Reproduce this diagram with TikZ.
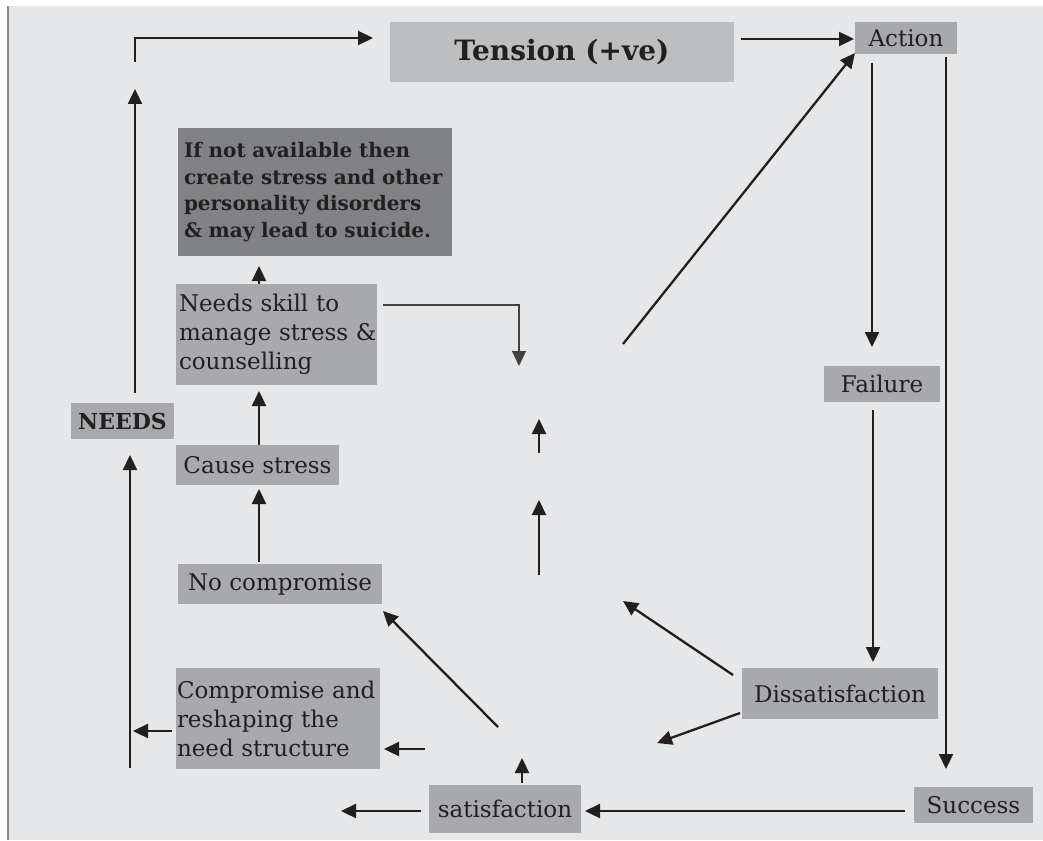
\documentclass[tikz,border=0pt]{standalone}
\usepackage{fontspec}
\setmainfont{DejaVu Serif}
\usetikzlibrary{arrows.meta}
\definecolor{bg}{HTML}{E6E7E8}
\definecolor{boxlight}{HTML}{A7A9AC}
\definecolor{boxtension}{HTML}{BCBEC0}
\definecolor{boxdark}{HTML}{808285}
\definecolor{ink}{HTML}{231F20}
\definecolor{frameline}{HTML}{8A8A8C}
\begin{document}
\begin{tikzpicture}[x=1pt,y=-1pt,
  box/.style={fill=boxlight, text=ink, inner sep=0pt, anchor=center,
    font=\fontsize{23}{29}\selectfont},
  multibox/.style={box, align=left, text width=#1},
  arr/.style={draw=ink, line width=2.3pt, -{Triangle[length=15pt,width=14pt]}},
  thinarr/.style={draw=ink!85, line width=1.3pt, -{Triangle[length=15pt,width=14pt]}}]
% canvas
\fill[white] (0,0) rectangle (1043,840);
\useasboundingbox (0,0) rectangle (1043,840);
\fill[bg] (8,6) rectangle (1043,840);
\draw[frameline, line width=2pt] (8,6) -- (8,840);

% boxes
\node[box, fill=boxtension, minimum width=344pt, minimum height=60pt,
  font=\fontsize{28}{32}\selectfont\bfseries] (tension) at (562,52) {Tension (+ve)};
\node[box, minimum width=102pt, minimum height=32pt] (action) at (906,38) {Action};
\node[box, fill=boxdark, minimum width=274pt, minimum height=128pt, align=left,
  text width=262pt, font=\fontsize{20}{26.7}\selectfont\bfseries] (dark) at (315,192)
  {If not available then\\create stress and other\\personality disorders\\\& may lead to suicide.};
\node[multibox=195pt, inner xsep=3pt, minimum width=201pt, minimum height=101pt] (skill) at (276.5,334.5)
  {\mbox{Needs skill to}\\\mbox{manage stress \&}\\\mbox{counselling}};
\node[box, minimum width=103pt, minimum height=36pt, font=\fontsize{22}{26}\selectfont\bfseries]
  (needs) at (122.5,421) {NEEDS};
\node[box, minimum width=163pt, minimum height=40pt] (cause) at (257.5,465) {Cause stress};
\node[box, minimum width=204pt, minimum height=40pt] (nocomp) at (280,584) {No compromise};
\node[multibox=202pt, inner xsep=1pt, minimum width=204pt, minimum height=101pt] (comp) at (278,718.5)
  {\mbox{Compromise and}\\\mbox{reshaping the}\\\mbox{need structure}};
\node[box, minimum width=116pt, minimum height=36pt] (failure) at (882,384) {Failure};
\node[box, minimum width=196pt, minimum height=51pt] (dissat) at (840,693.5) {Dissatisfaction};
\node[box, minimum width=152pt, minimum height=48pt] (satis) at (505,809) {satisfaction};
\node[box, minimum width=119pt, minimum height=36pt] (success) at (973.5,805) {Success};

% free connector ends
\coordinate (topA) at (135,62);
\coordinate (topB) at (135,38);
\coordinate (topC) at (373,38);
\coordinate (needsUpA) at (135,393);
\coordinate (needsUpB) at (135,89);
\coordinate (leftUpA) at (130,768);
\coordinate (leftUpB) at (130,455);
\coordinate (skillUpA) at (259,284);
\coordinate (skillUpB) at (259,266);
\coordinate (causeUpA) at (259,445);
\coordinate (causeUpB) at (259,391);
\coordinate (nocUpA) at (259,562);
\coordinate (nocUpB) at (259,489);
\coordinate (connA) at (383,305);
\coordinate (connB) at (519,305);
\coordinate (connC) at (519,366);
\coordinate (midA1) at (539,453);
\coordinate (midA2) at (539,419);
\coordinate (midB1) at (539,575);
\coordinate (midB2) at (539,500);
\coordinate (diagA) at (623,344);
\coordinate (failA) at (872,63);
\coordinate (failB) at (872,347);
\coordinate (succA) at (946,57);
\coordinate (succB) at (946,769);
\coordinate (disA) at (873,410);
\coordinate (disB) at (873,662);
\coordinate (dulA) at (733,675);
\coordinate (dulB) at (623,601);
\coordinate (ddlA) at (740,713);
\coordinate (ddlB) at (657,743);
\coordinate (satUpA) at (522,783);
\coordinate (satUpB) at (522,758);
\coordinate (sucSatA) at (905,811);
\coordinate (sucSatB) at (585,811);
\coordinate (satLA) at (421,811);
\coordinate (satLB) at (341,811);
\coordinate (compLA) at (172,731);
\coordinate (compLB) at (133,731);
\coordinate (rcA) at (425,749);
\coordinate (rcB) at (384,749);
\coordinate (toNocA) at (498,727);
\coordinate (toNocB) at (383,611);
\coordinate (tensA) at (741,39);
\coordinate (tensB) at (854,39);
\coordinate (actTip) at (855,53);

% connectors
\draw[arr] (topA) -- (topB) -- (topC);
\draw[arr] (tensA) -- (tensB);
\draw[arr] (needsUpA) -- (needsUpB);
\draw[arr] (leftUpA) -- (leftUpB);
\draw[arr] (skillUpA) -- (skillUpB);
\draw[arr] (causeUpA) -- (causeUpB);
\draw[arr] (nocUpA) -- (nocUpB);
\draw[thinarr] (connA) -- (connB) -- (connC);
\draw[arr] (midA1) -- (midA2);
\draw[arr] (midB1) -- (midB2);
\draw[arr] (diagA) -- (actTip);
\draw[arr] (failA) -- (failB);
\draw[arr] (succA) -- (succB);
\draw[arr] (disA) -- (disB);
\draw[arr] (dulA) -- (dulB);
\draw[arr] (ddlA) -- (ddlB);
\draw[arr] (satUpA) -- (satUpB);
\draw[arr] (sucSatA) -- (sucSatB);
\draw[arr] (satLA) -- (satLB);
\draw[arr] (compLA) -- (compLB);
\draw[arr] (rcA) -- (rcB);
\draw[arr] (toNocA) -- (toNocB);
\end{tikzpicture}
\end{document}
